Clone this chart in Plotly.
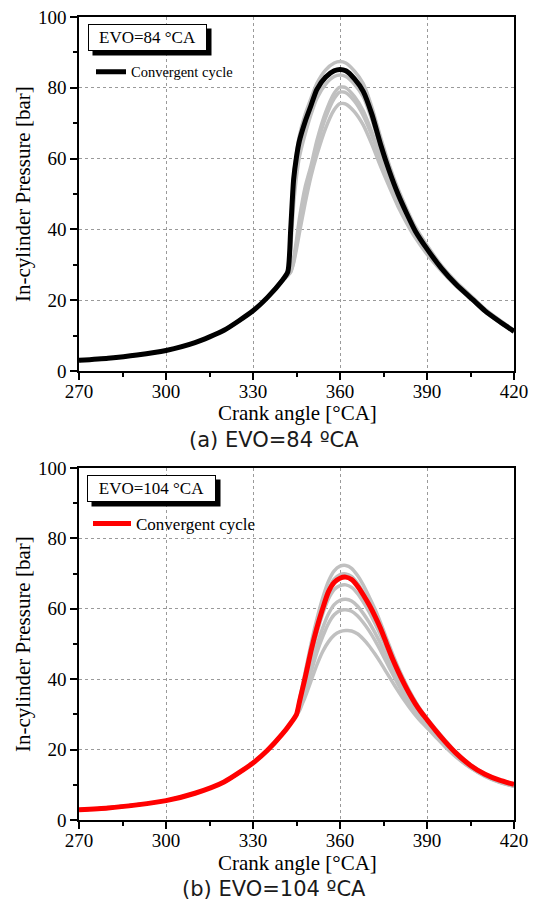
import plotly.graph_objects as go
from plotly.subplots import make_subplots

    # crank angle grid and pressure traces

    # (a) EVO = 84 CA
ca_a = [270, 280, 290, 300, 310, 320, 330, 335, 340, 342, 343, 344, 345, 346, 348, 350, 352, 355,
        358, 360, 362, 365, 368, 371, 374, 377, 380, 383, 386, 390, 395, 400, 406, 410, 415, 420]
base_a = [3.0, 3.6, 4.5, 5.8, 8.0, 11.5, 17.0, 20.8, 25.5]
conv_a = base_a + [28, 40, 54, 60.5, 65, 70.5, 75, 79.5, 83, 84.8, 85.2, 84.8, 82.5, 79, 72.5, 64, 56.5,
                   50, 44.5, 39.5, 34.5, 29, 24.5, 20, 17, 14, 11.2]
cyc_a1 = base_a + [28, 41, 55, 61.5, 66.5, 72.5, 77, 81.2, 85, 87, 87.4, 87, 84.7, 81.2, 74.5, 66, 58.2,
                   51.5, 45.8, 40.7, 35.5, 29.8, 25.2, 20.6, 17.5, 14.4, 11.5]
cyc_a2 = base_a + [27.5, 35, 47, 55, 60.5, 67, 72.5, 77, 81, 83.2, 83.6, 83.2, 81, 77.5, 71, 63, 55.5,
                   49.2, 43.8, 39, 34, 28.7, 24.3, 19.9, 16.9, 13.9, 11.1]
cyc_a3 = base_a + [27, 28.5, 32, 37, 43, 52, 58, 65, 73, 78.5, 80.2, 80, 77.5, 73.5, 67.5, 60.5, 54,
                   48, 43, 38.5, 33.7, 28.5, 24.2, 19.9, 16.9, 13.9, 11.1]
cyc_a4 = base_a + [27, 28, 31, 35.5, 41, 50, 56.5, 63.5, 71.5, 77, 78.8, 78.6, 76.2, 72.2, 66.5, 59.8, 53.5,
                   47.5, 42.7, 38.2, 33.5, 28.4, 24.1, 19.8, 16.8, 13.9, 11.1]
cyc_a5 = base_a + [27, 28, 30.5, 34.5, 39, 47.5, 55, 61, 68.5, 73.8, 75.5, 75.4, 73.2, 69.5, 64, 57.8, 52,
                   46.5, 41.8, 37.6, 33, 28.2, 24, 19.7, 16.7, 13.8, 11.0]

    # (b) EVO = 104 CA
ca_b = [270, 280, 290, 300, 310, 320, 330, 335, 340, 343, 345, 346, 347, 348, 350, 352, 354, 356, 358,
        360, 362, 364, 366, 368, 370, 372, 374, 376, 378, 380, 382, 384, 386, 388, 390, 393, 396, 400,
        405, 410, 415, 420]
base_b = [2.9, 3.4, 4.3, 5.5, 7.6, 10.8, 16.2, 19.8, 24.3, 27.5, 30.0]
conv_b = base_b + [33.5, 37, 40.5, 48, 54.5, 60, 64.8, 67.5, 68.7, 69, 68.3, 66.5, 64, 61.2, 58, 54.4,
                   50.2, 46, 42.3, 38.9, 35.8, 33, 30.6, 28.5, 25.4, 22.5, 19.0, 15.5, 13.0, 11.3, 10.1]
cyc_b1 = base_b + [34, 38, 42, 50, 57, 63, 67.8, 70.8, 72.1, 72.3, 71.5, 69.5, 66.8, 63.5, 60, 56,
                   51.7, 47.5, 43.5, 39.9, 36.6, 33.7, 31.1, 28.9, 25.8, 22.9, 19.3, 15.7, 13.1, 11.3, 10.0]
cyc_b2 = base_b + [33.5, 37, 40.5, 48.5, 55, 60.7, 65.5, 68.4, 69.7, 69.9, 69.2, 67.3, 64.7, 61.7, 58.3, 54.5,
                   50.2, 46, 42.2, 38.7, 35.6, 32.8, 30.4, 28.3, 25.2, 22.3, 18.8, 15.4, 12.9, 11.2, 9.9]
cyc_b3 = base_b + [33, 36, 39.5, 46.5, 53, 58.5, 62.8, 65.5, 66.6, 66.8, 66.1, 64.4, 62, 59.2, 56, 52.5,
                   48.7, 45, 41.4, 38.1, 35.1, 32.4, 30, 27.9, 24.9, 22.0, 18.6, 15.2, 12.8, 11.0, 9.8]
cyc_b4 = base_b + [32, 34.5, 37.5, 43.5, 49.5, 54.5, 58.5, 61.2, 62.4, 62.7, 62.2, 60.8, 58.7, 56.2, 53.3, 50.1,
                   46.6, 43.1, 39.7, 36.6, 33.8, 31.3, 29, 27.1, 24.3, 21.6, 18.3, 15.0, 12.6, 10.9, 9.7]
cyc_b5 = base_b + [31.5, 34, 36.5, 42, 47.5, 52, 55.8, 58.3, 59.5, 59.7, 59.3, 58, 56.1, 53.8, 51.1, 48.1,
                   44.9, 41.7, 38.6, 35.6, 33, 30.6, 28.5, 26.6, 23.9, 21.3, 18.1, 14.9, 12.5, 10.8, 9.6]
cyc_b6 = base_b + [31, 33, 35, 39.5, 44, 47.8, 50.6, 52.5, 53.5, 53.8, 53.7, 52.9, 51.4, 49.5, 47.2, 44.7,
                   42, 39.3, 36.7, 34.2, 31.9, 29.8, 27.9, 26.2, 23.6, 21.0, 17.9, 14.8, 12.4, 10.7, 9.6]

x_ticks = [270, 300, 330, 360, 390, 420]
y_ticks = [0, 20, 40, 60, 80, 100]

SERIF = 'Liberation Serif'
    # the page body keeps an 8px margin, so the figure is a little smaller than the window
OFF = 8
FW, FH = 531, 892

def px(x):
    return (x - OFF) / FW

def py(y):
    return 1 - (y - OFF) / FH

fig = make_subplots(rows=2, cols=1)

    # grey cycles first, convergent cycle on top
for ys in [cyc_a1, cyc_a2, cyc_a3, cyc_a4, cyc_a5]:
    fig.add_trace(go.Scatter(x=ca_a, y=ys, mode='lines', line=dict(color='#c0c0c0', width=3.5, shape='spline', smoothing=0.6),
                             showlegend=False, hoverinfo='skip'), row=1, col=1)
fig.add_trace(go.Scatter(x=ca_a, y=conv_a, mode='lines', name='Convergent cycle',
                         line=dict(color='black', width=5, shape='spline', smoothing=0.6),
                         legend='legend'), row=1, col=1)

for ys in [cyc_b1, cyc_b2, cyc_b3, cyc_b4, cyc_b5, cyc_b6]:
    fig.add_trace(go.Scatter(x=ca_b, y=ys, mode='lines', line=dict(color='#c0c0c0', width=3.5, shape='spline', smoothing=0.6),
                             showlegend=False, hoverinfo='skip'), row=2, col=1)
fig.add_trace(go.Scatter(x=ca_b, y=conv_b, mode='lines', name='Convergent cycle',
                         line=dict(color='#ff0000', width=5, shape='spline', smoothing=0.6),
                         legend='legend2'), row=2, col=1)

axis_style = dict(showline=True, linecolor='black', linewidth=1.5, mirror=True,
                  ticks='outside', ticklen=7, tickwidth=1.5, tickcolor='black',
                  showgrid=True, gridcolor='#9a9a9a', gridwidth=1, griddash='dot',
                  zeroline=False, ticklabeloverflow='allow',
                  tickfont=dict(family=SERIF, size=19, color='black'))

    # right edge pulled in a little so the last tick label "420" is not clipped
fig.update_xaxes(axis_style, range=[270, 420], tickvals=x_ticks, domain=[px(79), px(514)],
                 ticklabelstandoff=-5,
                 minor=dict(ticks='outside', ticklen=4, tickwidth=1.5, tickcolor='black', dtick=15, showgrid=False))
fig.update_yaxes(axis_style, range=[0, 100], tickvals=y_ticks,
                 minor=dict(ticks='outside', ticklen=4, tickwidth=1.5, tickcolor='black', dtick=10, showgrid=False))
fig.update_yaxes(domain=[py(371), py(17)], row=1, col=1)
fig.update_yaxes(domain=[py(820), py(468)], row=2, col=1)

ann = []
for yc in [194, 644]:
    ann.append(dict(x=px(23), y=py(yc), xref='paper', yref='paper', text='In-cylinder Pressure [bar]',
                    textangle=-90, xanchor='center', yanchor='middle',
                    showarrow=False, font=dict(family=SERIF, size=21, color='black')))
for yc in [413, 863]:
    ann.append(dict(x=px(297), y=py(yc), xref='paper', yref='paper', text='Crank angle [°CA]',
                    xanchor='center', yanchor='middle',
                    showarrow=False, font=dict(family=SERIF, size=21, color='black')))
for yc, lab in [(440, '(a) EVO=84 ºCA'), (889, '(b) EVO=104 ºCA')]:
    ann.append(dict(x=px(274), y=py(yc), xref='paper', yref='paper', text=lab,
                    xanchor='center', yanchor='middle',
                    showarrow=False, font=dict(family='DejaVu Sans', size=21, color='#1a1a1a')))

    # boxed labels, each with a black drop shadow drawn as a shape behind it
shadows = []
for cx, cy, w, lab in [(147.5, 37.5, 113, 'EVO=84 °CA'), (151.5, 488.5, 123, 'EVO=104 °CA')]:
    ann.append(dict(x=px(cx), y=py(cy), xref='paper', yref='paper', text=lab, showarrow=False,
                    xanchor='center', yanchor='middle', width=w, height=21, borderpad=2,
                    bgcolor='white', bordercolor='black', borderwidth=1,
                    font=dict(family=SERIF, size=17, color='black')))
    half_w, half_h = w / 2 + 3, 13.5
    shadows.append(dict(type='rect', xref='paper', yref='paper', layer='above',
                        x0=px(cx - half_w + 4.5), x1=px(cx + half_w + 4.5),
                        y0=py(cy + half_h + 4.5), y1=py(cy - half_h + 4.5),
                        fillcolor='black', line=dict(width=0)))

fig.update_layout(
    width=FW, height=FH,
    margin=dict(l=0, r=0, t=0, b=0, autoexpand=False),
    paper_bgcolor='white', plot_bgcolor='white',
    annotations=ann, shapes=shadows,
    legend=dict(x=px(91), y=py(71.7), xanchor='left', yanchor='middle', bgcolor='rgba(0,0,0,0)',
                font=dict(family=SERIF, size=14.5, color='black'), itemwidth=30),
    legend2=dict(x=px(88), y=py(524), xanchor='left', yanchor='middle', bgcolor='rgba(0,0,0,0)',
                 font=dict(family=SERIF, size=17, color='black'), itemwidth=38),
)

fig.write_html("out.html")
